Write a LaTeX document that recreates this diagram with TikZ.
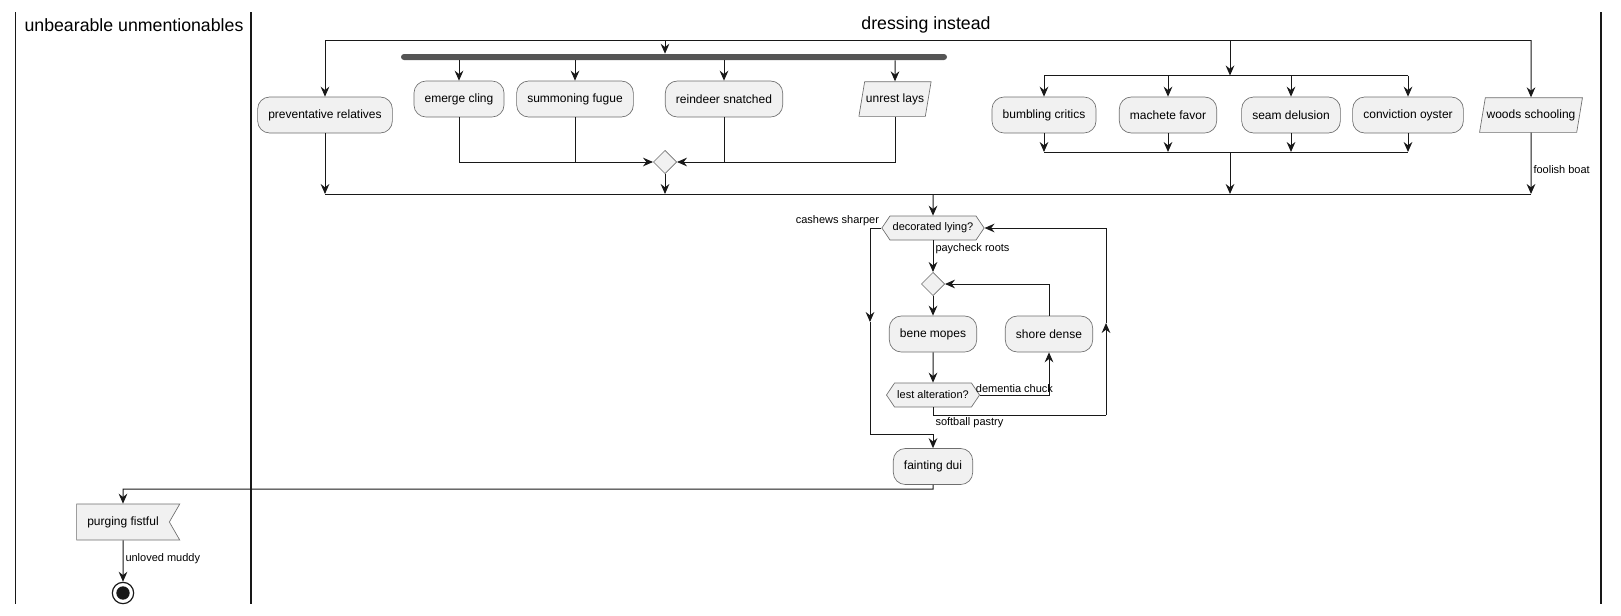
\documentclass[tikz,border=0pt]{standalone}
\usepackage{fontspec}
\setmainfont{Liberation Sans}
\usepackage{tikz}
\usetikzlibrary{positioning}
\usetikzlibrary{arrows.meta, shapes.geometric, shapes.symbols}
\definecolor{actfill}{HTML}{F1F1F1}
\definecolor{actdraw}{HTML}{6E6E6E}
\definecolor{flowc}{HTML}{181818}
\definecolor{barc}{HTML}{555555}

\begin{document}
\begin{tikzpicture}[x=0.75pt, y=-0.75pt,
    main/.style = {rectangle, rounded corners=9pt, draw=actdraw, line width=0.5pt, fill=actfill, minimum height=27pt, inner xsep=8pt, font=\fontsize{9}{11}\selectfont},
    para/.style = {trapezium, trapezium stretches=true, trapezium left angle=74, trapezium right angle=106, draw=actdraw, line width=0.5pt, fill=actfill, minimum height=26pt, inner xsep=1pt, font=\fontsize{9}{11}\selectfont},
    hexa/.style = {signal, signal to=west and east, signal pointer angle=112, draw=actdraw, line width=0.5pt, fill=actfill, minimum height=18pt, inner xsep=2pt, inner ysep=1pt, font=\fontsize{8.25}{10}\selectfont},
    flag/.style = {signal, signal to=nowhere, signal from=east, signal pointer angle=120, draw=actdraw, line width=0.5pt, fill=actfill, minimum height=27pt, inner xsep=8pt, font=\fontsize{9}{11}\selectfont},
    merge/.style = {diamond, draw=actdraw, line width=0.5pt, fill=actfill, minimum size=17.5pt, inner sep=0pt},
    stopnode/.style = {circle, draw=flowc, line width=0.9pt, minimum size=16pt, inner sep=0pt, path picture={\fill[flowc] (path picture bounding box.center) circle (5pt);}},
    lbl/.style = {font=\fontsize{8.25}{10}\selectfont, inner sep=1.5pt},
    flow/.style = {draw=flowc, line width=0.75pt},
    arr/.style = {flow, -{Stealth[length=7.5pt, width=6.5pt, inset=2.5pt]}},
    lane/.style = {draw=flowc, line width=1.1pt}]
    \useasboundingbox (0,0) rectangle (1621,615);

    % swimlanes
    \draw[lane] (15.5,12) -- (15.5,604);
    \draw[lane] (251,12) -- (251,604);
    \draw[lane] (1601,12) -- (1601,604);
    \node[font=\fontsize{13.3}{16}\selectfont] (h1) at (134,25) {unbearable unmentionables};
    \node[font=\fontsize{13.3}{16}\selectfont] (h2) at (926,25) {dressing instead};

    \coordinate (t1) at (325,40);
    \coordinate (t2) at (1531,40);
    \coordinate (k1) at (665,40);
    \coordinate (k2) at (1230,40);
    \coordinate (b1) at (325,194);
    \coordinate (b2) at (1531,194);
    \coordinate (s1) at (1044,75.5);
    \coordinate (s2) at (1408,75.5);
    \coordinate (m1) at (1044,152);
    \coordinate (m2) at (1408,152);

    \node[main] (1) at (325,115) {preventative relatives};
    \node[fill=barc, rounded corners=2.25pt, minimum width=409.5pt, minimum height=4.5pt, inner sep=0pt] (fb) at (674,57) {};
    \node[main] (2) at (459,99) {emerge cling};
    \node[main] (3) at (575,99) {summoning fugue};
    \node[main] (4) at (724,99) {reindeer snatched};
    \node[para] (5) at (895,99) {unrest lays};
    \node[merge] (d1) at (665,162) {};
    \node[main] (6) at (1044,115) {bumbling critics};
    \node[main] (7) at (1168,115) {machete favor};
    \node[main] (8) at (1291,115) {seam delusion};
    \node[main] (9) at (1408,115) {conviction oyster};
    \node[para] (10) at (1531,115) {woods schooling};

    \node[hexa] (11) at (933,228) {decorated lying?};
    \node[merge] (d2) at (933,284) {};
    \node[main] (12) at (933,334) {bene mopes};
    \node[main] (13) at (1049,334) {shore dense};
    \node[hexa] (14) at (933,395) {lest alteration?};
    \node[main] (15) at (933,466.5) {fainting dui};
    \node[flag] (16) at (123,522) {purging fistful};
    \node[stopnode] (17) at (123,593) {};

    \coordinate (r1) at (1106,415);
    \coordinate (r2) at (1106,323);
    \coordinate (l1) at (870,322);
    \coordinate (l2) at (870,434);
    \coordinate (p1) at (123,489);

    % split and fork
    \draw[flow] (t1) -- (t2);
    \draw[arr] (t1) -- (1);
    \draw[arr] (k1) -- (k1 |- fb.north);
    \draw[arr] (2 |- fb.south) -- (2);
    \draw[arr] (3 |- fb.south) -- (3);
    \draw[arr] (4 |- fb.south) -- (4);
    \draw[arr] (5 |- fb.south) -- (5);
    \draw[arr] (2) |- (d1);
    \draw[flow] (3) -- (3 |- d1);
    \draw[arr] (4) |- (d1);
    \draw[flow] (5) |- (4 |- d1);
    \draw[arr] (k2) -- (s1 -| k2);
    \draw[flow] (s1) -- (s2);
    \draw[arr] (s1) -- (6);
    \draw[arr] (7 |- s1) -- (7);
    \draw[arr] (8 |- s1) -- (8);
    \draw[arr] (s2) -- (9);
    \draw[flow] (m1) -- (m2);
    \draw[arr] (6) -- (m1);
    \draw[arr] (7) -- (7 |- m1);
    \draw[arr] (8) -- (8 |- m1);
    \draw[arr] (9) -- (m2);
    \draw[arr] (t2) -- (10);

    % merge
    \draw[flow] (b1) -- (b2);
    \draw[arr] (1) -- (b1);
    \draw[arr] (d1) -- (d1 |- b1);
    \draw[arr] (k2 |- m1) -- (k2 |- b1);
    \draw[arr] (10) -- node[lbl, right, pos=0.6] {foolish boat} (b2);

    % loops
    \draw[arr] (11 |- b1) -- (11);
    \draw[arr] (11) -- node[lbl, right, pos=0.25] {paycheck roots} (d2);
    \draw[arr] (d2) -- (12);
    \draw[arr] (12) -- (14);
    \draw[arr] (14) -| node[lbl, above, pos=0.25] {dementia chuck} (13);
    \draw[arr] (13) |- (d2);
    \draw[flow] (14) |- node[lbl, below right, pos=0.5] {softball pastry} (r1);
    \draw[arr] (r1) -- (r2);
    \draw[arr] (r2) |- (11);
    \draw[arr] (11) -| node[lbl, above left, pos=0] {cashews sharper} (l1);
    \draw[arr] (l1) -- (l2) -| (15);
    \draw[arr] (15) |- (p1) -- (16);
    \draw[arr] (16) -- node[lbl, right, pos=0.45] {unloved muddy} (17);
\end{tikzpicture}
\end{document}
